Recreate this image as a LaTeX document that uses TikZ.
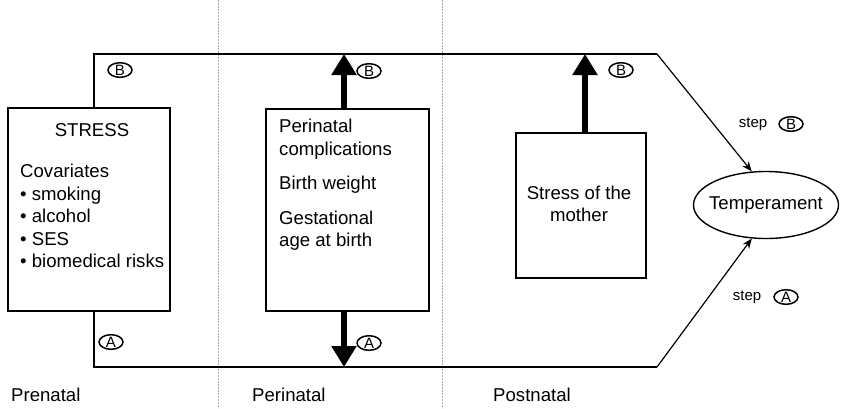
\documentclass[tikz,border=0pt]{standalone}
\usepackage{fontspec}
\setmainfont{Liberation Sans}
\usetikzlibrary{arrows.meta,shapes.geometric}
\begin{document}
\begin{tikzpicture}[x=1pt,y=-1pt,
  box/.style={draw,line width=1.4pt,inner sep=0pt},
  txt/.style={inner sep=0pt,font=\fontsize{18.6}{22.5}\selectfont},
  steptxt/.style={inner sep=0pt,font=\fontsize{15}{16}\selectfont},
  circ/.style={draw,ellipse,line width=1.5pt,minimum width=24pt,minimum height=13pt,inner sep=0pt,font=\fontsize{15}{15}\selectfont},
  frame/.style={line width=1.4pt},
  bigarrow/.style={line width=6pt,-{Triangle[length=21pt,width=24pt]}},
  thinarrow/.style={line width=1.2pt,-{Stealth[length=10pt,width=8pt]}},
  divider/.style={gray!70,line width=0.5pt,dash pattern=on 2pt off 1pt}
]
\useasboundingbox (0,0) rectangle (843,408);
% dividers
\draw[divider] (218,0) -- (218,408);
\draw[divider] (442,0) -- (442,408);
% boxes
\node[box,minimum width=162pt,minimum height=203pt] (stress) at (89,209.5) {};
\node[box,minimum width=163pt,minimum height=202pt] (peri) at (347.5,210) {};
\node[box,minimum width=130pt,minimum height=145pt] (post) at (581,205.5) {};
\node[draw,ellipse,line width=1.4pt,minimum width=145pt,minimum height=67pt,inner sep=0pt] (temp) at (766,205) {};
\node[txt] (temptext) at (temp.center) {Temperament};
% box texts
\node[txt] (stresstitle) at (92,130) {STRESS};
\node[txt,anchor=north west,align=left] (cov) at (20,164) {Covariates\\
\textbullet\ smoking\\ \textbullet\ alcohol\\ \textbullet\ SES\\ \textbullet\ biomedical risks};
\node[txt,anchor=north west,align=left] (peritext) at (279,119) {Perinatal\\complications\\[12pt]Birth weight\\[12pt]Gestational\\age at birth};
\node[txt,align=center] (posttext) at (579,204) {Stress of the\\mother};
% frame coordinates
\coordinate (tl) at (94,54);
\coordinate (tr) at (657,54);
\coordinate (bl) at (94,367);
\coordinate (br) at (657,367);
\coordinate (pt) at (344,54);
\coordinate (pb) at (344,367);
\coordinate (qt) at (585,54);
% frame lines
\draw[frame] (stress.north -| tl) -- (tl) -- (tr);
\draw[frame] (stress.south -| bl) -- (bl) -- (br);
\draw[thinarrow] (tr) -- (temp.113);
\draw[thinarrow] (br) -- (temp.247);
% thick arrows
\draw[bigarrow] (peri.north -| pt) -- (pt);
\draw[bigarrow] (peri.south -| pb) -- (pb);
\draw[bigarrow] (post.north -| qt) -- (qt);
% circled labels
\node[circ] (b1) at (120,70) {B};
\node[circ] (a1) at (111,342) {A};
\node[circ] (b2) at (369,71) {B};
\node[circ] (a2) at (369,343) {A};
\node[circ] (b3) at (621,70) {B};
\node[steptxt] (stepb) at (753,124) {step};
\node[circ] (b4) at (791,124) {B};
\node[steptxt] (stepa) at (747,297) {step};
\node[circ] (a4) at (786,297) {A};
% phase labels
\node[txt,anchor=west] (pre) at (11,395) {Prenatal};
\node[txt,anchor=west] (perin) at (252,395) {Perinatal};
\node[txt,anchor=west] (postn) at (493,395) {Postnatal};
\end{tikzpicture}
\end{document}
